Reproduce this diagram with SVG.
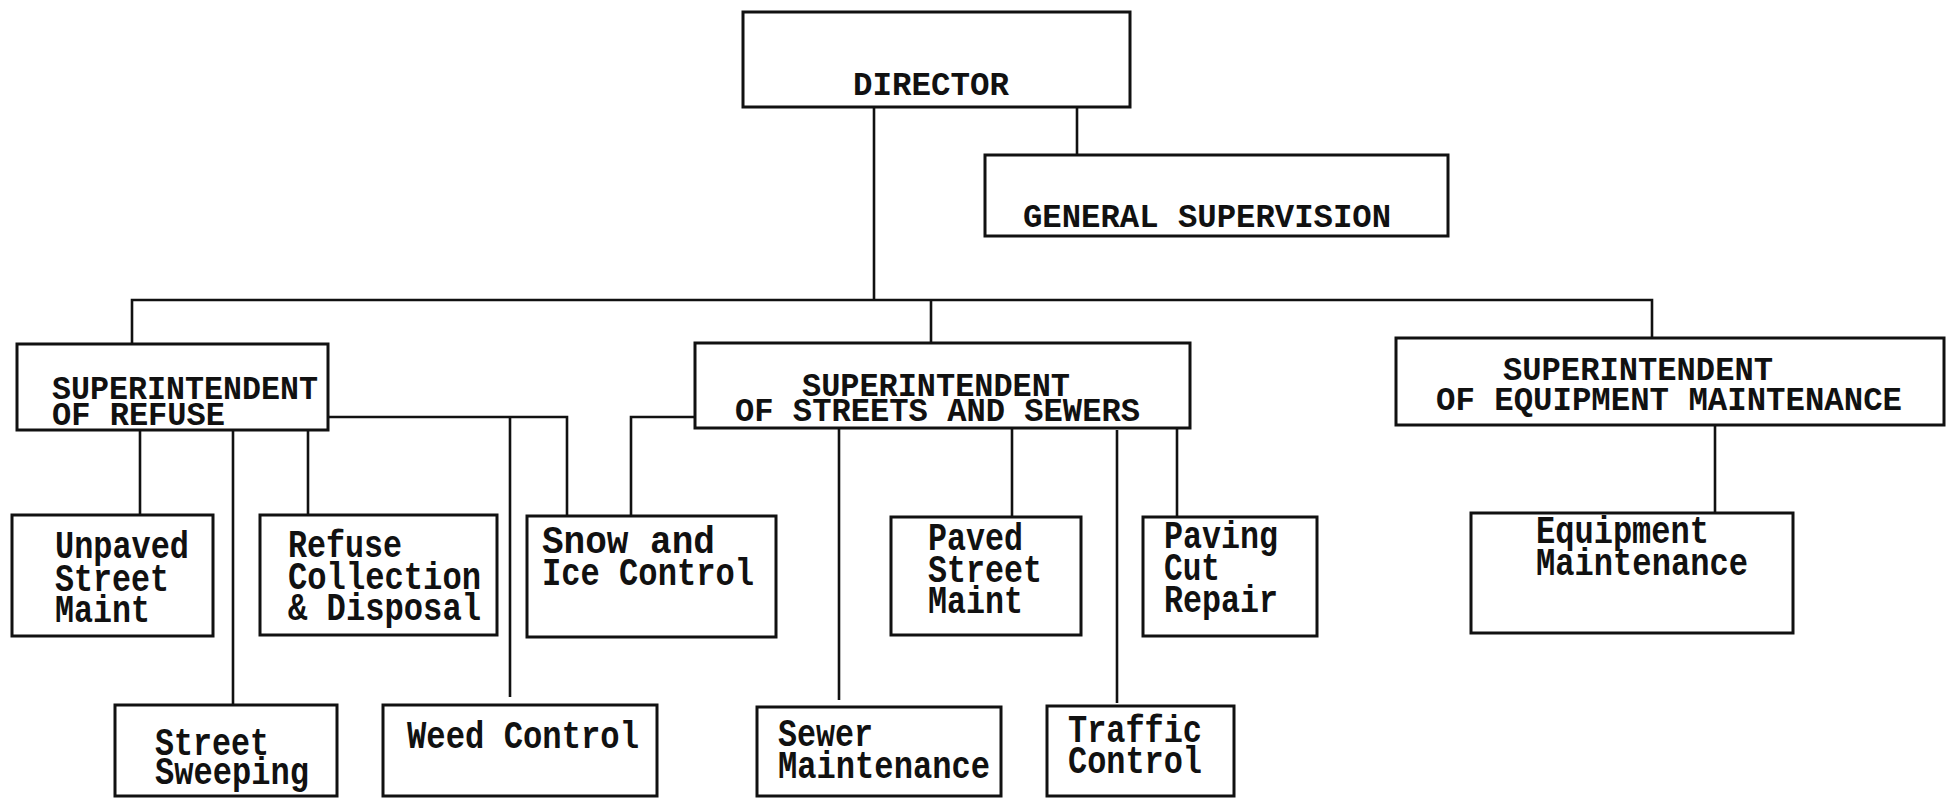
<svg xmlns="http://www.w3.org/2000/svg" width="1948" height="800" viewBox="0 0 1948 800">
<style>
  .box { fill: #fff; stroke: #111; stroke-width: 3; }
  .con { fill: none; stroke: #111; stroke-width: 2.6; stroke-linejoin: miter; }
  .up { font-family: "Liberation Mono", "Courier New", monospace; font-weight: bold; font-size: 33px; fill: #111; }
  .lo { font-family: "Liberation Mono", "Courier New", monospace; font-weight: bold; font-size: 38px; fill: #111; }
</style>
<rect x="0" y="0" width="1948" height="800" fill="#fff"/>

<g id="connectors">
  <path class="con" d="M1077,107 V155"/>
  <path class="con" d="M874,107 V300"/>
  <path class="con" d="M132,344 V300 H1652 V338"/>
  <path class="con" d="M931,300 V343"/>
  <path class="con" d="M140,430 V515"/>
  <path class="con" d="M233,430 V705"/>
  <path class="con" d="M308,430 V515"/>
  <path class="con" d="M328,417 H567 V516"/>
  <path class="con" d="M510,417 V697"/>
  <path class="con" d="M695,417 H631 V516"/>
  <path class="con" d="M839,428 V700"/>
  <path class="con" d="M1012,428 V517"/>
  <path class="con" d="M1117,430 V703"/>
  <path class="con" d="M1177,428 V517"/>
  <path class="con" d="M1715,425 V513"/>
</g>

<g id="director">
  <rect class="box" x="743" y="12" width="387" height="95"/>
  <text class="up" x="853" y="95" textLength="156" lengthAdjust="spacingAndGlyphs">DIRECTOR</text>
</g>

<g id="general-supervision">
  <rect class="box" x="985" y="155" width="463" height="81"/>
  <text class="up" x="1023" y="227" textLength="368" lengthAdjust="spacingAndGlyphs">GENERAL SUPERVISION</text>
</g>

<g id="sup-refuse">
  <rect class="box" x="17" y="344" width="311" height="86"/>
  <text class="up" x="52" y="399" textLength="266" lengthAdjust="spacingAndGlyphs">SUPERINTENDENT</text>
  <text class="up" x="52" y="425" textLength="173" lengthAdjust="spacingAndGlyphs">OF REFUSE</text>
</g>

<g id="sup-streets">
  <rect class="box" x="695" y="343" width="495" height="85"/>
  <text class="up" x="802" y="396" textLength="268" lengthAdjust="spacingAndGlyphs">SUPERINTENDENT</text>
  <text class="up" x="735" y="421" textLength="405" lengthAdjust="spacingAndGlyphs">OF STREETS AND SEWERS</text>
</g>

<g id="sup-equipment">
  <rect class="box" x="1396" y="338" width="548" height="87"/>
  <text class="up" x="1503" y="380" textLength="270" lengthAdjust="spacingAndGlyphs">SUPERINTENDENT</text>
  <text class="up" x="1436" y="410" textLength="466" lengthAdjust="spacingAndGlyphs">OF EQUIPMENT MAINTENANCE</text>
</g>

<g id="unpaved-street-maint">
  <rect class="box" x="12" y="515" width="201" height="121"/>
  <text class="lo" x="55" y="558" textLength="134" lengthAdjust="spacingAndGlyphs">Unpaved</text>
  <text class="lo" x="55" y="591" textLength="114" lengthAdjust="spacingAndGlyphs">Street</text>
  <text class="lo" x="55" y="622" textLength="95" lengthAdjust="spacingAndGlyphs">Maint</text>
</g>

<g id="refuse-collection">
  <rect class="box" x="260" y="515" width="237" height="120"/>
  <text class="lo" x="288" y="557" textLength="114" lengthAdjust="spacingAndGlyphs">Refuse</text>
  <text class="lo" x="288" y="589" textLength="193" lengthAdjust="spacingAndGlyphs">Collection</text>
  <text class="lo" x="288" y="620" textLength="193" lengthAdjust="spacingAndGlyphs">&amp; Disposal</text>
</g>

<g id="snow-ice-control">
  <rect class="box" x="527" y="516" width="249" height="121"/>
  <text class="lo" x="542" y="553" textLength="173" lengthAdjust="spacingAndGlyphs">Snow and</text>
  <text class="lo" x="542" y="585" textLength="212" lengthAdjust="spacingAndGlyphs">Ice Control</text>
</g>

<g id="paved-street-maint">
  <rect class="box" x="891" y="517" width="190" height="118"/>
  <text class="lo" x="928" y="550" textLength="95" lengthAdjust="spacingAndGlyphs">Paved</text>
  <text class="lo" x="928" y="582" textLength="114" lengthAdjust="spacingAndGlyphs">Street</text>
  <text class="lo" x="928" y="613" textLength="95" lengthAdjust="spacingAndGlyphs">Maint</text>
</g>

<g id="paving-cut-repair">
  <rect class="box" x="1143" y="517" width="174" height="119"/>
  <text class="lo" x="1164" y="548" textLength="114" lengthAdjust="spacingAndGlyphs">Paving</text>
  <text class="lo" x="1164" y="580" textLength="56" lengthAdjust="spacingAndGlyphs">Cut</text>
  <text class="lo" x="1164" y="612" textLength="114" lengthAdjust="spacingAndGlyphs">Repair</text>
</g>

<g id="equipment-maintenance">
  <rect class="box" x="1471" y="513" width="322" height="120"/>
  <text class="lo" x="1536" y="543" textLength="173" lengthAdjust="spacingAndGlyphs">Equipment</text>
  <text class="lo" x="1536" y="575" textLength="212" lengthAdjust="spacingAndGlyphs">Maintenance</text>
</g>

<g id="street-sweeping">
  <rect class="box" x="115" y="705" width="222" height="91"/>
  <text class="lo" x="155" y="755" textLength="114" lengthAdjust="spacingAndGlyphs">Street</text>
  <text class="lo" x="155" y="784" textLength="154" lengthAdjust="spacingAndGlyphs">Sweeping</text>
</g>

<g id="weed-control">
  <rect class="box" x="383" y="705" width="274" height="91"/>
  <text class="lo" x="407" y="748" textLength="232" lengthAdjust="spacingAndGlyphs">Weed Control</text>
</g>

<g id="sewer-maintenance">
  <rect class="box" x="757" y="707" width="244" height="89"/>
  <text class="lo" x="778" y="746" textLength="95" lengthAdjust="spacingAndGlyphs">Sewer</text>
  <text class="lo" x="778" y="778" textLength="212" lengthAdjust="spacingAndGlyphs">Maintenance</text>
</g>

<g id="traffic-control">
  <rect class="box" x="1047" y="706" width="187" height="90"/>
  <text class="lo" x="1068" y="742" textLength="134" lengthAdjust="spacingAndGlyphs">Traffic</text>
  <text class="lo" x="1068" y="773" textLength="134" lengthAdjust="spacingAndGlyphs">Control</text>
</g>
</svg>
